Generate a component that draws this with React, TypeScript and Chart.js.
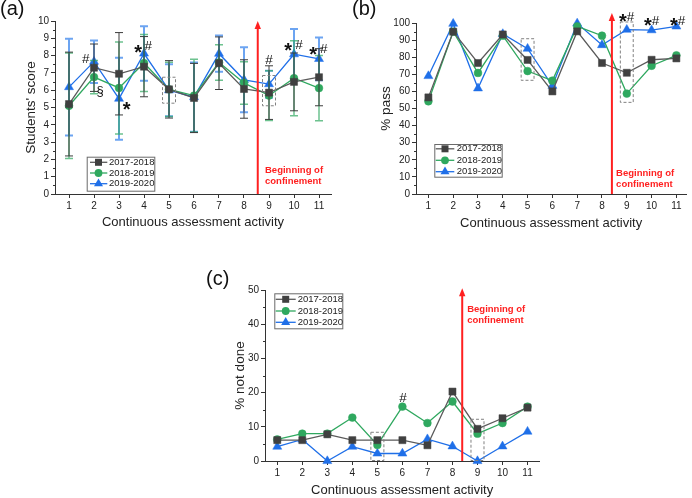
import React, { useEffect, useRef } from 'react';
import { Chart, registerables } from 'chart.js';

Chart.register(...registerables);
Chart.defaults.font.family = "'Liberation Sans', Arial, sans-serif";

// ---------- data ----------
const activities = [1, 2, 3, 4, 5, 6, 7, 8, 9, 10, 11];
const seriesNames = ['2017-2018', '2018-2019', '2019-2020'];

const score1718 = [5.2, 7.3, 6.95, 7.36, 6.05, 5.55, 7.56, 6.07, 5.86, 6.48, 6.75];
const score1819 = [5.1, 6.76, 6.13, 7.57, 6.05, 5.69, 7.6, 6.42, 5.69, 6.69, 6.12];
const score1920 = [6.18, 7.65, 5.51, 8.12, 6.0, 5.6, 8.11, 6.6, 6.35, 8.08, 7.81];
const scoreErr1718 = [3.0, 1.37, 2.38, 1.74, 1.66, 2.0, 1.52, 1.69, 1.55, 1.67, 1.65];
const scoreErr1819 = [3.05, 0.96, 2.66, 1.65, 1.57, 2.1, 1.03, 1.23, 1.44, 2.17, 1.89];
const scoreErr1920 = [2.8, 1.23, 2.37, 1.57, 1.5, 2.0, 1.05, 1.88, 0.78, 1.46, 1.23];

const pass1718 = [56.5, 94.9, 76.6, 93.3, 78.4, 60, 95.1, 76.6, 70.9, 78.5, 79.3];
const pass1819 = [54.2, 94.9, 70.8, 92.6, 71.9, 66.3, 98, 92.6, 58.7, 75, 81.1];
const pass1920 = [69, 99.6, 61.8, 93.6, 85, 63.3, 99.8, 87.1, 96.1, 95.8, 98];

const notDone1718 = [6.1, 6.1, 7.8, 6.1, 6.1, 6.1, 4.6, 20.3, 9.4, 12.5, 15.6];
const notDone1819 = [6.3, 8.0, 8.0, 12.7, 4.7, 15.9, 11.1, 17.4, 8.0, 11.1, 15.9];
const notDone1920 = [4.2, 6.3, 0, 4.2, 2.2, 2.2, 6.4, 4.3, 0, 4.3, 8.6];

const xTitle = 'Continuous assessment activity';
const noteLines = ['Beginning of', 'confinement'];

// ---------- styles ----------
const lineColors = ['#5a5a5a', '#2fa85f', '#1f6fe8'];
const markerColors = ['#404040', '#2fa85f', '#1f6fe8'];
const errColors = ['#3c3c3c', 'rgba(47,168,95,0.7)', 'rgba(45,125,235,0.7)'];
const errWidths = [1, 1.5, 2];
const pointStyles = ['rect', 'circle', 'triangle'];
const pointRadii = [5, 3.9, 5.2];
const axisColor = '#333';
const red = '#ff2020';
const font = "'Liberation Sans', Arial, sans-serif";

const panels: any[] = [
  {
    key: 'a', left: 0, top: 0, w: 345, h: 250,
    area: { left: 55, top: 21, right: 331, bottom: 194 },
    xMin: 0.44, xMax: 11.48, yMax: 10, yStep: 1, yMinor: 0.5,
    yTitle: "Students' score", yTitlePad: 23, xTitlePad: 19.5,
    series: [score1718, score1819, score1920],
    errors: [scoreErr1718, scoreErr1819, scoreErr1920],
    arrow: { x: 8.55, tip: 10 },
    note: { x: 8.84, y1: 1.34, y2: 0.71 },
    boxes: [{ x: 5, y1: 6.75, y2: 5.25 }, { x: 9, y1: 6.85, y2: 5.1 }],
    marks: [
      { t: '#', x: 1.67, y: 7.85 }, { t: '§', x: 2.24, y: 5.92 }, { t: '*', x: 3.31, y: 5.21 },
      { t: '*', x: 3.77, y: 8.52 }, { t: '#', x: 4.17, y: 8.62 },
      { t: '#', x: 9.0, y: 7.79 },
      { t: '*', x: 9.77, y: 8.62 }, { t: '#', x: 10.2, y: 8.66 },
      { t: '*', x: 10.77, y: 8.37 }, { t: '#', x: 11.19, y: 8.45 },
    ],
    legend: { box: [86.7, 156.7, 154.3, 190.7], rows: [162.3, 173, 183.7], line: [90, 107.3], mark: 98.5, text: 109 },
  },
  {
    key: 'b', left: 345, top: 0, w: 347, h: 250,
    area: { left: 71, top: 23, right: 344.3, bottom: 194 },
    xMin: 0.5, xMax: 11.4, yMax: 100, yStep: 10, yMinor: 5,
    yTitle: '% pass', yTitlePad: 33, xTitlePad: 19,
    series: [pass1718, pass1819, pass1920],
    errors: null,
    arrow: { x: 8.4, tip: 105.8 },
    note: { x: 8.57, y1: 12.3, y2: 5.8 },
    boxes: [{ x: 5, y1: 90.8, y2: 66.5 }, { x: 9, y1: 100.6, y2: 53.6 }],
    marks: [
      { t: '*', x: 8.84, y: 104.3 }, { t: '#', x: 9.15, y: 104.3 },
      { t: '*', x: 9.85, y: 101.5 }, { t: '#', x: 10.16, y: 101.5 },
      { t: '*', x: 10.9, y: 101.9 }, { t: '#', x: 11.21, y: 101.9 },
    ],
    legend: { box: [89.3, 144, 156.7, 176.7], rows: [148.8, 160.3, 171.7], line: [90.7, 109.3], mark: 100, text: 111.7 },
  },
  {
    key: 'c', left: 150, top: 250, w: 395, h: 252,
    area: { left: 115, top: 40, right: 390, bottom: 211 },
    xMin: 0.51, xMax: 11.47, yMax: 50, yStep: 10, yMinor: 5,
    yTitle: '% not done', yTitlePad: 82, xTitlePad: 3.5,
    series: [notDone1718, notDone1819, notDone1920],
    errors: null,
    arrow: { x: 8.39, tip: 50.5 },
    note: { x: 8.59, y1: 44.4, y2: 41.1 },
    boxes: [{ x: 5, y1: 8.4, y2: 0.15 }, { x: 9, y1: 12.2, y2: 0.15 }],
    marks: [{ t: '#', x: 6.02, y: 18.8 }],
    legend: { box: [124.3, 43.3, 192.3, 78.3], rows: [49.3, 61, 72.3], line: [125.7, 145.7], mark: 135.7, text: 147.7 },
  },
];

function drawMarker(ctx: CanvasRenderingContext2D, style: string, x: number, y: number, color: string) {
  ctx.fillStyle = color;
  ctx.beginPath();
  if (style === 'rect') {
    ctx.rect(x - 3.5, y - 3.5, 7, 7);
  } else if (style === 'circle') {
    ctx.arc(x, y, 3.9, 0, Math.PI * 2);
  } else {
    ctx.moveTo(x, y - 5.2);
    ctx.lineTo(x + 4.5, y + 2.6);
    ctx.lineTo(x - 4.5, y + 2.6);
    ctx.closePath();
  }
  ctx.fill();
}

const markK: Record<string, number> = { '*': 0.6, '#': 0.36, '§': 0.28 };
const markSize: Record<string, number> = { '*': 20, '#': 13.5, '§': 13 };

function makeDecor(p: any) {
  return {
    id: 'decor' + p.key,
    beforeDatasetDraw(chart: any, args: any) {
      if (!p.errors) return;
      const errs = p.errors[args.index];
      const vals = p.series[args.index];
      const ys = chart.scales.y;
      const ctx = chart.ctx;
      ctx.save();
      ctx.strokeStyle = errColors[args.index];
      ctx.lineWidth = errWidths[args.index];
      args.meta.data.forEach((pt: any, i: number) => {
        const t = ys.getPixelForValue(vals[i] + errs[i]);
        const b = ys.getPixelForValue(vals[i] - errs[i]);
        ctx.beginPath();
        ctx.moveTo(pt.x, t); ctx.lineTo(pt.x, b);
        ctx.moveTo(pt.x - 4, t); ctx.lineTo(pt.x + 4, t);
        ctx.moveTo(pt.x - 4, b); ctx.lineTo(pt.x + 4, b);
        ctx.stroke();
      });
      ctx.restore();
    },
    afterDatasetsDraw(chart: any) {
      const ctx = chart.ctx as CanvasRenderingContext2D;
      const xs = chart.scales.x, ys = chart.scales.y;
      const area = chart.chartArea;
      ctx.save();
      // minor y ticks
      ctx.strokeStyle = axisColor;
      ctx.lineWidth = 1;
      for (let v = p.yMinor; v < p.yMax; v += p.yStep) {
        const yy = Math.round(ys.getPixelForValue(v)) + 0.5;
        ctx.beginPath();
        ctx.moveTo(area.left, yy); ctx.lineTo(area.left - 2, yy);
        ctx.stroke();
      }
      // dashed boxes
      ctx.strokeStyle = '#808080';
      ctx.setLineDash([3, 2]);
      p.boxes.forEach((bx: any) => {
        const l = xs.getPixelForValue(bx.x - 0.26), r = xs.getPixelForValue(bx.x + 0.26);
        const t = ys.getPixelForValue(bx.y1), b = ys.getPixelForValue(bx.y2);
        ctx.strokeRect(l, t, r - l, b - t);
      });
      ctx.setLineDash([]);
      // red arrow
      const ax = xs.getPixelForValue(p.arrow.x);
      const tip = ys.getPixelForValue(p.arrow.tip);
      ctx.strokeStyle = red; ctx.fillStyle = red; ctx.lineWidth = 2;
      ctx.beginPath();
      ctx.moveTo(ax, area.bottom); ctx.lineTo(ax, tip + 6);
      ctx.stroke();
      ctx.beginPath();
      ctx.moveTo(ax, tip); ctx.lineTo(ax + 3.2, tip + 8); ctx.lineTo(ax - 3.2, tip + 8); ctx.closePath();
      ctx.fill();
      // note text
      ctx.font = `bold 9.5px ${font}`;
      ctx.textAlign = 'left'; ctx.textBaseline = 'middle';
      ctx.fillText(noteLines[0], xs.getPixelForValue(p.note.x), ys.getPixelForValue(p.note.y1));
      ctx.fillText(noteLines[1], xs.getPixelForValue(p.note.x), ys.getPixelForValue(p.note.y2));
      // significance marks
      ctx.fillStyle = '#111';
      ctx.textAlign = 'center'; ctx.textBaseline = 'alphabetic';
      p.marks.forEach((m: any) => {
        const size = markSize[m.t];
        ctx.font = `${m.t === '*' ? 'bold ' : ''}${size}px ${font}`;
        ctx.fillText(m.t, xs.getPixelForValue(m.x), ys.getPixelForValue(m.y) + markK[m.t] * size);
      });
      // legend
      const lg = p.legend;
      ctx.fillStyle = '#fff';
      ctx.fillRect(lg.box[0], lg.box[1], lg.box[2] - lg.box[0], lg.box[3] - lg.box[1]);
      ctx.strokeStyle = '#6a6a6a'; ctx.lineWidth = 1;
      ctx.strokeRect(lg.box[0] + 0.5, lg.box[1] + 0.5, lg.box[2] - lg.box[0], lg.box[3] - lg.box[1]);
      ctx.font = `9.5px ${font}`;
      ctx.textAlign = 'left'; ctx.textBaseline = 'middle';
      seriesNames.forEach((name, i) => {
        const ry = lg.rows[i];
        ctx.strokeStyle = lineColors[i]; ctx.lineWidth = 1.3;
        ctx.beginPath(); ctx.moveTo(lg.line[0], ry); ctx.lineTo(lg.line[1], ry); ctx.stroke();
        drawMarker(ctx, pointStyles[i], lg.mark, ry, markerColors[i]);
        ctx.fillStyle = '#222';
        ctx.fillText(name, lg.text, ry);
      });
      ctx.restore();
    },
  };
}

function makeConfig(p: any): any {
  const datasets = p.series.map((vals: number[], i: number) => ({
    label: seriesNames[i],
    data: activities.map((a, j) => ({ x: a, y: vals[j] })),
    borderColor: lineColors[i],
    borderWidth: 1.3,
    pointStyle: pointStyles[i],
    pointRadius: pointRadii[i],
    pointBackgroundColor: markerColors[i],
    pointBorderColor: markerColors[i],
    pointBorderWidth: 0.5,
    tension: 0,
    clip: false,
  }));
  return {
    type: 'line',
    data: { datasets },
    options: {
      animation: false,
      responsive: false,
      events: [],
      layout: { padding: { left: 0, top: p.area.top, right: p.w - p.area.right, bottom: 0 } },
      plugins: { legend: { display: false }, tooltip: { enabled: false } },
      scales: {
        x: {
          type: 'linear', min: p.xMin, max: p.xMax,
          afterBuildTicks: (s: any) => { s.ticks = activities.map((v) => ({ value: v })); },
          afterFit: (s: any) => { s.height = p.h - p.area.bottom; },
          grid: { display: true, drawOnChartArea: false, drawTicks: true, tickLength: 4, color: axisColor },
          border: { display: true, color: axisColor, width: 1 },
          ticks: { font: { size: 10 }, color: '#222', padding: 2, maxRotation: 0, autoSkip: false },
          title: { display: true, text: xTitle, font: { size: 13 }, color: '#222', padding: { top: 0, bottom: p.xTitlePad } },
        },
        y: {
          type: 'linear', min: 0, max: p.yMax,
          afterFit: (s: any) => { s.width = p.area.left; },
          grid: { display: true, drawOnChartArea: false, drawTicks: true, tickLength: 4, color: axisColor },
          border: { display: true, color: axisColor, width: 1 },
          ticks: { stepSize: p.yStep, font: { size: 10 }, color: '#222', padding: 2 },
          title: { display: true, text: p.yTitle, font: { size: 13.5 }, color: '#222', padding: { top: p.yTitlePad, bottom: 0 } },
        },
      },
    },
    plugins: [makeDecor(p)],
  };
}

const panelLabels = [
  { t: '(a)', left: 0, top: -3 },
  { t: '(b)', left: 352, top: -3 },
  { t: '(c)', left: 206, top: 267 },
];

export default function App() {
  const refs = [useRef<HTMLCanvasElement>(null), useRef<HTMLCanvasElement>(null), useRef<HTMLCanvasElement>(null)];
  useEffect(() => {
    const charts = panels.map((p, i) => new Chart(refs[i].current as HTMLCanvasElement, makeConfig(p)));
    return () => charts.forEach((c) => c.destroy());
  }, []);
  return (
    <div style={{ position: 'fixed', left: 0, top: 0, width: 692, height: 498, overflow: 'hidden', background: '#fff', fontFamily: font }}>
      {panels.map((p, i) => (
        <canvas
          key={p.key}
          ref={refs[i]}
          width={p.w}
          height={p.h}
          style={{ position: 'absolute', left: p.left, top: p.top, width: p.w, height: p.h }}
        />
      ))}
      {panelLabels.map((l) => (
        <div key={l.t} style={{ position: 'absolute', left: l.left, top: l.top, fontSize: 20, lineHeight: '22px', color: '#111' }}>
          {l.t}
        </div>
      ))}
    </div>
  );
}
